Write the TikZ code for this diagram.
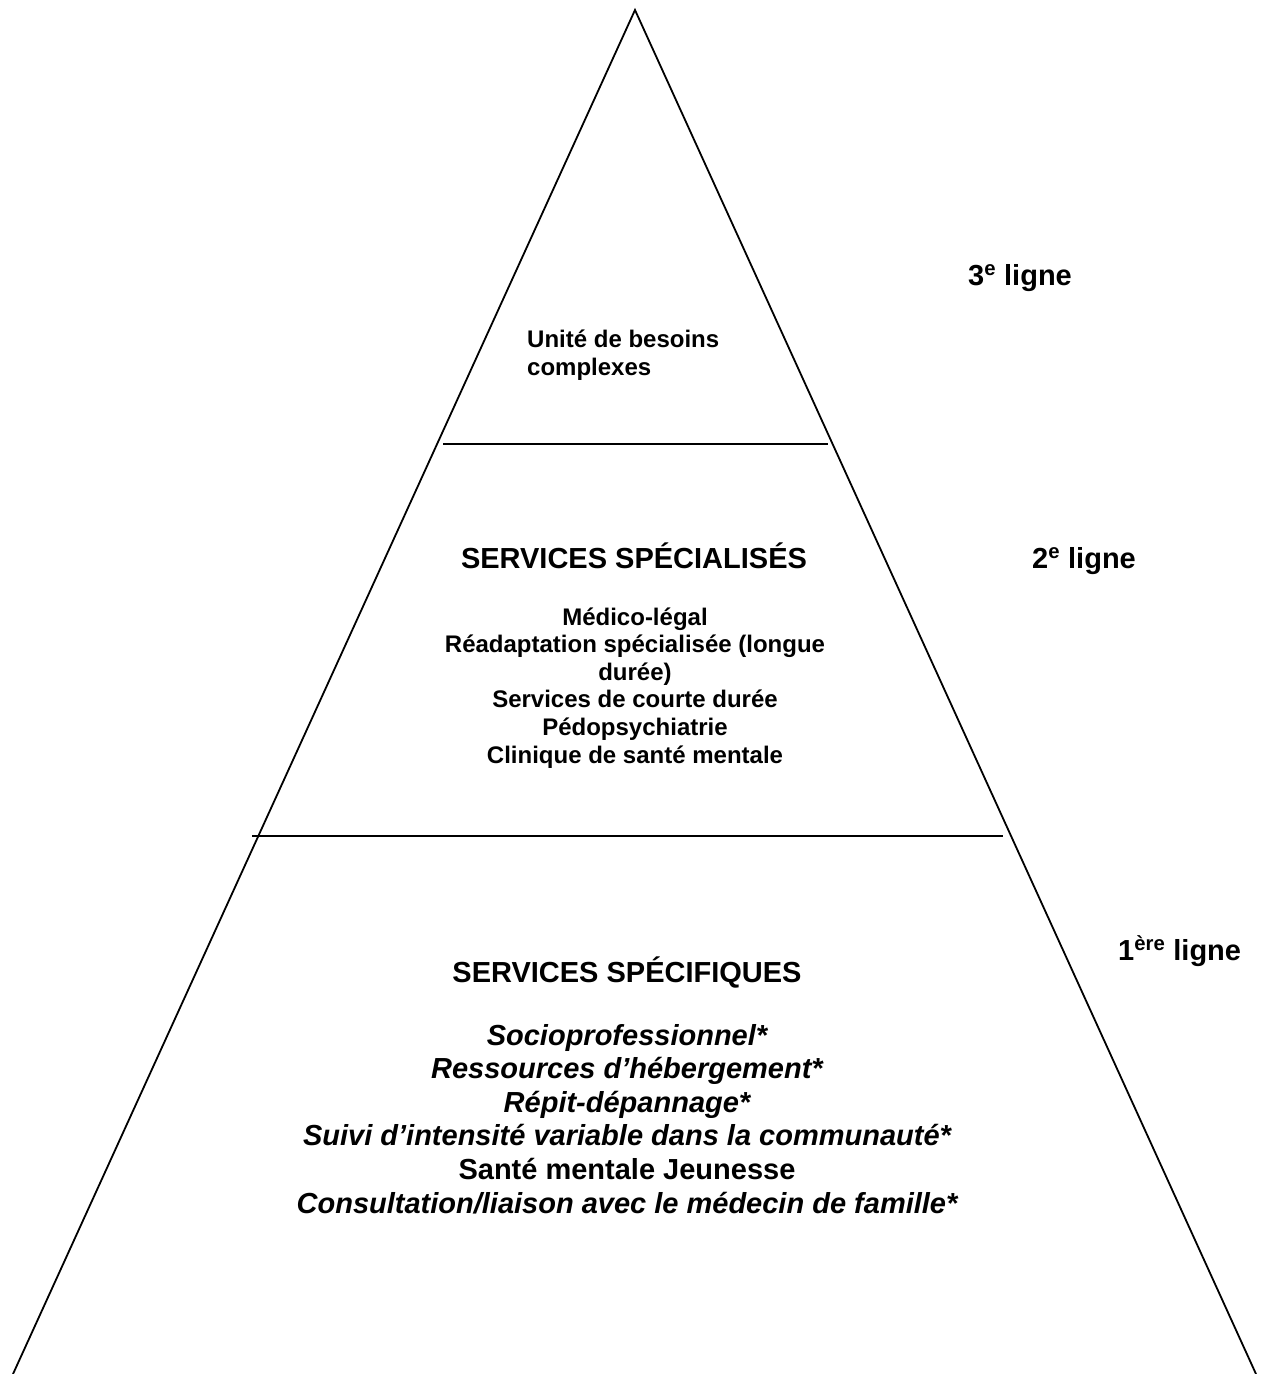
\documentclass[tikz,border=0pt]{standalone}
\usepackage{fontspec}
\setmainfont{Liberation Sans}
\begin{document}
\begin{tikzpicture}[x=1pt,y=-1pt,
  side/.style={line width=1.8pt},
  divider/.style={line width=2.4pt},
  body/.style={font=\fontsize{24}{27.6}\selectfont\bfseries, inner sep=0pt, anchor=base},
  bodyit/.style={font=\fontsize{29}{33.6}\selectfont\bfseries\itshape, inner sep=0pt, anchor=base},
  head/.style={font=\fontsize{29}{33.6}\selectfont\bfseries, inner sep=0pt, anchor=base},
  level/.style={font=\fontsize{29}{33.6}\selectfont\bfseries, inner sep=0pt, anchor=base west}]

% page
\fill[white] (0,0) rectangle (1262,1374);
\useasboundingbox (0,0) rectangle (1262,1374);

% pyramid outline
\coordinate (apex) at (635,10);
\coordinate (bl) at (13,1374);
\coordinate (br) at (1256,1374);
\draw[side] (bl) -- (apex) -- (br);

% tier dividers
\coordinate (d1l) at (443,444);
\coordinate (d1r) at (828,444);
\coordinate (d2l) at (252,836);
\coordinate (d2r) at (1003,836);
\draw[divider] (d1l) -- (d1r);
\draw[divider] (d2l) -- (d2r);

% top tier
\node[body, anchor=base west] (ube1) at (527,347) {Unité de besoins};
\node[body, anchor=base west] (ube2) at (527,375) {complexes};
\node[level] (l3) at (968,285) {3\textsuperscript{e} ligne};

% middle tier
\node[head] (spec) at (634,568) {SERVICES SPÉCIALISÉS};
\node[body] (m1) at (635,625) {Médico-légal};
\node[body] (m2) at (635,652.6) {Réadaptation spécialisée (longue};
\node[body] (m3) at (635,680.2) {durée)};
\node[body] (m4) at (635,707.8) {Services de courte durée};
\node[body] (m5) at (635,735.4) {Pédopsychiatrie};
\node[body] (m6) at (635,763) {Clinique de santé mentale};
\node[level] (l2) at (1032,568) {2\textsuperscript{e} ligne};

% bottom tier
\node[head] (spf) at (627,982) {SERVICES SPÉCIFIQUES};
\node[bodyit] (b1) at (627,1045) {Socioprofessionnel*};
\node[bodyit] (b2) at (627,1078.6) {Ressources d’hébergement*};
\node[bodyit] (b3) at (627,1112.2) {Répit-dépannage*};
\node[bodyit] (b4) at (627,1145.8) {Suivi d’intensité variable dans la communauté*};
\node[head] (b5) at (627,1179.4) {Santé mentale Jeunesse};
\node[bodyit] (b6) at (627,1213) {Consultation/liaison avec le médecin de famille*};
\node[level] (l1) at (1118,960) {1\textsuperscript{ère} ligne};

\end{tikzpicture}
\end{document}
